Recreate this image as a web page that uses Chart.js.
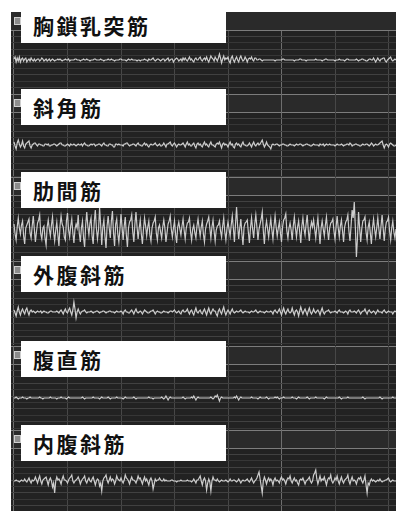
<!DOCTYPE html>
<html lang="ja">
<head>
<meta charset="utf-8">
<script src="https://cdn.jsdelivr.net/npm/chart.js@4.4.1/dist/chart.umd.min.js"></script>
<style>
html,body{margin:0;padding:0;background:#fff;width:396px;height:511px;overflow:hidden;}
#board{position:absolute;left:11px;top:12px;width:385px;height:499px;background:#222;}
.panel{position:absolute;left:11px;width:385px;height:84px;}
.panel canvas{display:block;}
.tag{position:absolute;left:21px;width:205px;height:36px;background:#fff;box-sizing:border-box;padding-left:12px;
  font:700 21px "Noto Sans CJK JP","Noto Sans CJK SC",sans-serif;letter-spacing:2.5px;line-height:36px;color:#111;white-space:nowrap;}
.btn{position:absolute;left:14px;width:5px;height:6px;background:#8c8c8c;border:1px solid #cfcfcf;}
</style>
</head>
<body>
<div id="board"></div>
<script>
// Muscle names, one per EMG channel (top to bottom)
const MUSCLES = ['胸鎖乳突筋', '斜角筋', '肋間筋', '外腹斜筋', '腹直筋', '内腹斜筋'];

// Sampling interval (s) and time gridlines (s)
const DT = 0.01;
const TIME_TICKS = [0, 0.5, 1, 1.5, 2, 2.5, 3, 3.5];
const MAJOR_TIME_TICKS = [0, 2.5];

// Raw EMG amplitude per channel (arbitrary units, 20 samples per row)
const SCM = [
  1, 3, -2, 2, -1, 3, -2, 1, 2, -1, 1, 2, -2, 0, 1, -1, 2, 0, -1, 1,
  -1, 0, 1, 1, -1, 0, 2, 1, -1, 0, 1, -1, 0, 1, -1, 0, 1, 0, -1, 0,
  0, 1, 0, 1, 0, -1, 0, 0, 1, 0, 0, 1, -1, 0, 0, 0, 0, 1, 1, 0,
  0, 0, -1, 0, 0, 1, 0, 0, 1, 0, 0, -1, 0, 0, 0, 1, 1, 0, 0, 0,
  0, 1, 0, 0, -1, 0, 0, 0, 1, 0, 0, 1, 0, 0, -1, 0, 0, 0, 0, 1,
  1, 0, 0, 0, 0, -1, 0, 1, 0, 0, 1, 0, 0, 0, 0, -1, 0, 0, -1, 0,
  0, 0, 1, 0, 0, -1, 1, 0, 0, 1, 2, 0, -1, 0, 1, 1, 0, -1, 0, 1,
  1, -1, 0, 1, 2, -1, 0, 1, 1, -2, 0, 1, 2, 1, -1, 0, 1, -1, 2, 0,
  2, 0, -1, 1, 3, 0, 1, -1, -2, 1, 2, 0, 0, 2, 3, 0, -1, 1, 2, 0,
  3, 0, -2, 1, 4, 2, 1, -1, 3, 1, -1, 2, 6, 2, -3, 1, 4, 0, 2, 1,
  3, -1, -3, 2, 4, 0, -2, 1, 3, 0, -2, 2, 4, 1, -1, 0, 3, 1, -2, 1,
  2, 1, 3, 0, -1, 2, 2, 0, 0, 1, 1, 0, -1, 0, 0, 0, 0, 0, 0, 0,
  0, 0, 0, 0, -1, 0, 0, 0, 0, 0, 0, 1, 1, 0, 0, 0, 0, 0, 0, 0,
  0, 0, -1, 0, 0, 0, 0, 1, 1, 0, 0, 0, 0, -1, 0, 0, 0, 0, 0, 0,
  0, 0, 1, 0, 0, 0, 0, 0, -1, 0, 0, 1, 1, 0, 0, 0, 0, 0, 0, 0,
  -1, 0, 0, 0, 1, 0, 0, 0, 0, -1, 0, 1, 1, 0, 0, 0, 0, 0, 0, 0,
  1, 0, -1, 0, 0, 1, 1, 0, 0, -1, -1, 0, 1, 1, 0, 0, 2, 0, -2, 0,
  2, 0, -1, 1, 1, 2, 2, -1, -2, 0, 1, 2, 3, 0, -1, 0, 1, 0
];
const SCALENE = [
  3, -1, -4, 2, 5, 1, -2, 0, 4, -1, -3, 1, 2, 3, 4, -1, -3, 0, 1, 2,
  2, 0, -1, 1, 1, 0, 0, -1, -1, 1, 1, 0, 1, -1, -1, 0, 0, 1, 1, 0,
  -1, 0, 1, 2, 2, 0, 0, -1, -1, 0, 1, 0, -1, 1, 0, 0, 1, 0, -1, 0,
  1, 0, 0, 1, -1, 1, 2, 0, 0, -1, -1, 0, 1, 0, 1, 1, -1, 0, 0, 1,
  1, 0, -1, 1, 2, 0, 0, -1, -1, 1, 1, 0, 0, -2, -2, 1, 1, 0, 1, 0,
  0, 0, -1, 1, 1, 2, 2, 0, -1, 0, 0, 1, 1, 0, -1, 1, 2, 0, 0, -1,
  -1, 1, 2, 0, 1, -1, -2, 0, 1, 0, 0, 1, 2, 0, -1, 0, 1, -1, -1, 0,
  2, 0, -2, 1, 1, 2, 3, 0, -1, 1, 2, 0, -2, 0, 1, 0, 0, 1, 2, 0,
  -2, 1, 3, 0, 1, -1, -1, 1, 2, -1, -3, 1, 2, 0, 1, -1, -2, 1, 3, 0,
  1, -1, -2, 1, 3, 0, 0, -1, -2, 1, 2, 1, 3, 0, -3, 1, 2, 0, 1, 0,
  -2, 1, 3, 0, 1, -2, -3, 1, 2, 0, 1, -1, -2, 1, 3, 0, 0, -1, -1, 0,
  2, 0, -2, 1, 3, 0, -1, 1, 2, 0, 1, 3, 5, 1, -2, 0, 3, 0, -1, -2,
  -4, 0, 1, 0, 0, 1, 1, 0, -1, 0, 0, 1, 1, 0, 0, -1, -1, 0, 1, 0,
  0, 0, -1, 0, 1, 0, 0, 1, 1, 0, -1, 0, 0, 1, 1, 0, 0, -1, -1, 0,
  1, 0, 0, 0, 0, -1, 1, 0, 0, 1, -1, 0, 1, 0, 0, 1, 0, 0, 0, 0,
  -1, 0, 1, 0, 0, 0, 1, 0, -1, 0, 0, 1, 1, 0, 2, 1, -1, 0, 0, 1,
  1, 0, 0, -1, -1, 0, 1, 0, 0, 1, 1, 0, -1, 0, 2, 1, -1, 0, 1, 0,
  0, 1, 2, 3, 4, 0, -3, 0, 1, 0, -2, 1, 2, 1, 0, -1, -1, 0
];
const INTERCOSTAL = [
  6, -4, -10, 3, 12, 2, -4, 5, 9, -6, -14, 2, 5, 8, 11, -3, -8, 4, 14, 1,
  -12, -2, 7, 10, 15, -4, -9, 2, 4, -8, -15, 3, 10, 1, -6, 5, 13, -2, -11, 0,
  8, -5, -16, 4, 14, 6, 3, -7, -10, 9, 17, 0, -7, 4, 11, -3, -13, 1, 6, 2,
  15, -3, -12, 2, 9, -8, -17, 5, 18, 4, -5, 7, 12, -6, -14, 8, 20, 2, -9, 0,
  22, 5, -15, 3, 10, -6, -18, 4, 14, 2, -8, 9, 19, -3, -16, 6, 11, -4, -12, 1,
  16, 3, -10, 4, 13, -5, -17, 2, 8, 10, 15, -2, -12, 6, 18, 3, -9, 2, 10, -4,
  -14, 1, 12, 4, -6, 3, 9, -5, -11, 2, 7, 9, 13, -3, -10, 2, 5, -2, -8, 3,
  10, 2, -12, -3, 6, 9, 14, 1, -7, 2, 9, -4, -13, 3, 8, 1, -5, 4, 11, 0,
  -9, 2, 7, 8, 12, -2, -10, 1, 5, -3, -8, 4, 11, 2, -6, 3, 9, -4, -12, 1,
  6, 9, 13, 2, -8, 3, 10, -1, -11, 0, 4, 5, 9, -1, -7, 4, 12, -2, -10, 1,
  8, 1, -6, 5, 14, 2, -12, 6, 23, 4, -9, 2, 11, -4, -15, 3, 7, 8, 10, -2,
  -13, 2, 12, 1, -8, 6, 15, 3, -10, 1, 6, 11, 18, -1, -14, 2, 9, 1, -7, 3,
  11, 0, -9, 4, 14, 3, -6, 2, 8, -3, -12, 3, 10, 12, 16, -1, -8, 2, 7, 0,
  -10, 4, 13, 2, -7, 3, 9, -2, -13, 4, 12, 1, -5, 6, 15, 0, -11, 2, 8, 3,
  10, 1, -8, 3, 12, -1, -14, 2, 9, 1, -6, 5, 13, 0, -10, 2, 7, 8, 11, -1,
  -9, 3, 14, 2, -7, 4, 10, -1, -12, 3, 8, 10, 15, -1, -11, 4, 20, 12, 28, 3,
  -27, -8, 18, 2, -12, 1, 9, 10, 13, -2, -10, 3, 8, -3, -14, 2, 11, 1, -7, 2,
  12, 1, -9, 4, 15, 2, -11, 1, 8, 9, 13, -1, -10, 2, 9, -2, -8, 1
];
const EXT_OBLIQUE = [
  2, -1, -4, 1, 5, 0, -3, 1, 3, 0, -2, 2, 4, 0, -3, 1, 2, 0, 1, 0,
  -1, 0, 1, 0, 0, 1, -1, 0, 1, 0, 0, -1, -1, 0, 1, 1, 0, 0, 0, 0,
  1, 0, -1, 1, 2, 0, -2, 1, 3, 0, -1, 2, 4, 0, -3, 2, 10, 3, -6, 0,
  3, 0, -2, 0, 1, 1, 2, 0, -1, 0, 0, 0, 1, 0, -1, 0, 0, 1, 1, 0,
  -1, 0, 0, 1, 1, 0, -1, 0, 0, 1, 1, 0, 0, 0, -1, 0, 1, 0, 0, 0,
  1, 0, -2, 1, 2, 0, 0, -1, -1, 1, 2, 0, -2, 1, 3, 0, -1, 0, 1, 0,
  -2, 0, 2, 1, 0, -1, -1, 0, 1, 1, 2, 0, -2, 0, 1, 0, 0, -1, -1, 0,
  1, 0, 0, 0, -1, 0, 1, 1, 0, 1, 2, 0, -1, 0, 1, -1, -2, 1, 2, 0,
  0, 1, 3, 0, -2, 1, 2, -1, -3, 1, 4, 0, -1, 1, 2, -1, -2, 1, 3, 0,
  -3, 1, 4, 0, -2, 1, 3, 1, 1, -2, -4, 1, 3, 0, -2, 2, 5, 0, -3, 0,
  2, 0, -2, 1, 3, 0, -1, 0, 1, 0, 0, 1, 2, 0, -1, 0, 1, 0, 0, 0,
  -1, 0, 1, 0, 0, 1, 2, 0, -1, 0, 1, 0, 0, 0, -1, 0, 1, 0, 0, 0,
  1, 0, -2, 1, 2, 0, -1, 1, 3, 0, -3, 1, 4, 0, -2, 1, 3, 0, -1, 0,
  4, 0, -3, 1, 2, 0, -4, 1, 5, 1, -2, 1, 3, 0, -3, 1, 4, 0, -2, 0,
  3, 0, -1, 1, 2, 0, -3, 1, 4, 0, -2, 0, 1, 1, 2, 0, -1, 0, 0, 0,
  1, 0, -1, 1, 2, 0, 0, 0, -1, 0, 1, 0, -2, 1, 2, 0, 0, 0, 1, 0,
  -1, 1, 2, 0, -2, 0, 1, 1, 3, 0, -2, 1, 2, 0, -1, 0, 1, 0, -2, 0,
  2, 0, 0, 0, -1, 1, 2, 0, -1, 0, 1, 0, 0, 0, -2, 0, 1, 0
];
const RECTUS = [
  0, 0, 1, 0, -1, 0, 0, 0, 1, 0, 0, 0, -1, 0, 0, 1, 0, 0, 0, 0,
  0, 0, 0, 0, 1, 0, 0, -1, 0, 0, 0, 0, 0, 0, 1, 0, 0, 0, 0, 0,
  -1, 0, 0, 0, 1, 0, 0, 0, 0, -1, 0, 1, 0, 0, 0, 0, 0, 0, 0, 0,
  0, 0, 0, 0, 1, 0, -1, 0, 0, 0, 0, 0, 0, 0, 1, 0, 0, 0, 0, 0,
  -1, 0, 1, 0, 0, 0, 0, 0, 1, 0, -1, 0, 0, 0, 0, 0, 1, 0, 0, 0,
  0, 0, -1, 0, 1, 0, 0, 0, 0, 0, 0, 0, 1, 0, -1, 0, 0, 0, 0, 0,
  0, 0, 0, 0, 0, 0, 1, 0, 0, 0, -1, 0, 0, 0, 0, 0, 0, 0, 1, 0,
  -1, 0, 2, 0, -2, 0, 1, 0, 0, 0, 0, 0, 0, 0, 0, 0, 0, 0, 1, 0,
  -1, 0, 0, 0, 0, 0, 1, 0, 2, 0, -2, 0, 1, 0, 0, 0, 0, 0, 0, 0,
  0, 0, 0, 0, 1, 0, -1, 0, 2, 1, 3, 0, -3, 0, 1, 0, 0, 0, 0, 0,
  0, 0, 0, 0, 0, 0, 1, 0, 2, 0, -2, 0, 1, 0, 0, 0, 0, 0, 0, 0,
  0, 0, 1, 0, 0, 0, 0, 0, -1, 0, 1, 0, 0, 0, 0, 0, 1, 0, -1, 0,
  0, 0, 0, 0, 1, 0, 1, 0, -1, 0, 0, 0, 1, 0, 0, 0, 0, 0, 0, 0,
  1, 0, 0, 0, -1, 0, 1, 0, 0, 0, 0, 0, 0, 0, 1, 0, -1, 0, 0, 0,
  0, 0, 1, 0, 0, 0, 0, 0, 0, 0, -1, 0, 1, 0, 0, 0, 0, 0, 0, 0,
  0, 0, 0, 0, 1, 0, -1, 0, 0, 0, 0, 0, 1, 0, 0, 0, 0, 0, 0, 0,
  0, 0, 0, 0, 0, 0, 1, 0, -1, 0, 0, 0, 0, 0, 0, 0, 0, 0, 0, 0,
  0, 0, 1, 0, -1, 0, 0, 0, 0, 0, 0, 0, 0, 0, 1, 0, 0, 0
];
const INT_OBLIQUE = [
  0, 0, 1, 0, 0, -1, 0, 1, 0, 0, 2, 0, -1, 1, 3, 0, -2, 1, 0, 1,
  4, 1, -2, 2, 5, 0, -3, 1, 2, 3, 4, 0, -4, 1, 3, 0, -6, -2, -12, 0,
  4, 1, 2, 0, -3, 2, 5, 1, 1, 0, -2, 1, 3, 4, 6, 0, -2, 0, 1, 2,
  4, 1, -3, 0, 2, 3, 5, 0, -2, 1, 3, 0, -1, 2, 4, 0, -4, 0, 2, 1,
  -5, -2, -10, 0, 3, 4, 6, 1, -2, 1, 4, 0, 2, 1, -3, 0, 5, 2, 1, 0,
  3, 0, -2, 1, 6, 3, 2, 0, -3, 1, 4, 1, 1, 0, -2, 1, 5, 2, 3, 0,
  -3, 1, 4, 0, 2, -1, -4, 1, 3, 0, -8, -3, 2, 0, 1, 1, 3, 1, 0, 0,
  2, 0, 1, 0, 0, 0, 0, 1, 1, 0, 0, 0, -1, 0, 0, 0, 1, 0, 0, 0,
  0, 0, 1, 0, 0, 0, -1, 0, 2, 0, -2, 1, 1, 3, 5, 0, -4, 1, 3, 0,
  -9, -2, 2, -1, -10, 0, 4, 1, 1, 0, 2, 0, -1, 0, 1, 0, 0, 0, 1, 0,
  -1, 0, 2, 0, 0, 1, 1, 0, -1, 0, 2, 0, -2, 0, 1, 0, 0, 1, 2, 0,
  -1, 1, 3, 0, -2, 0, 1, 3, 6, 9, 2, -5, -12, 0, 4, 1, -3, 1, 3, 0,
  2, 0, -4, 1, 3, 0, 1, 0, -2, 2, 4, 1, 2, 0, -3, 1, 3, 2, 5, 0,
  -2, 1, 3, 0, 1, -2, -4, 1, 2, 1, 3, 0, -3, 0, 1, 2, 4, 0, -2, 0,
  6, 8, 11, 2, -3, 1, 5, 0, 2, 1, 4, 0, -4, 1, 3, 2, 6, 0, -2, 0,
  3, 1, 5, 0, -3, 1, 4, 0, -2, 1, 2, 3, 6, 0, -3, 1, 4, 0, 1, 0,
  -3, 1, 3, 2, 4, 0, -2, 1, 5, -4, -12, -2, -4, 0, 2, 0, 1, 0, -1, 0,
  1, 0, 2, 0, -1, 0, 0, 1, 1, 2, 3, 0, -1, 0, 1, 0, 0, 0
];
const CHANNELS = [SCM, SCALENE, INTERCOSTAL, EXT_OBLIQUE, RECTUS, INT_OBLIQUE];

// Layout of the stacked channel strips
const PANEL_TOP = [12, 94, 177, 261, 346, 430];
const PANEL_H = 84;
const BASE_OFFSET = [48, 51, 53, 51, 52, 51]; // amplitude at strip top, relative to baseline
const BAND_H = 18;
const GRID_STEP = 6.4;

// Draws the dark title band at the top of each strip
const headerBand = {
  id: 'headerBand',
  draw(chart, opts) {
    const { ctx, chartArea } = chart;
    const y = chart.scales.y;
    const top = Math.round(y.getPixelForValue(opts.top));
    const bot = Math.round(y.getPixelForValue(opts.top - BAND_H));
    ctx.save();
    ctx.fillStyle = '#2a2a2a';
    ctx.fillRect(chartArea.left, top, chartArea.right - chartArea.left, bot - top);
    ctx.strokeStyle = '#7c7c7c';
    ctx.lineWidth = 1;
    ctx.beginPath();
    if (opts.topLine) { ctx.moveTo(chartArea.left, top + 0.5); ctx.lineTo(chartArea.right, top + 0.5); }
    ctx.moveTo(chartArea.left, bot + 0.5); ctx.lineTo(chartArea.right, bot + 0.5);
    ctx.stroke();
    ctx.restore();
  },
  beforeDraw(chart, args, opts) { if (!opts.over) this.draw(chart, opts); },
  beforeDatasetsDraw(chart, args, opts) { if (opts.over) this.draw(chart, opts); }
};

CHANNELS.forEach((series, i) => {
  const yTop = BASE_OFFSET[i];
  const wrap = document.createElement('div');
  wrap.className = 'panel';
  wrap.style.top = PANEL_TOP[i] + 'px';
  const canvas = document.createElement('canvas');
  canvas.width = 385; canvas.height = PANEL_H;
  wrap.appendChild(canvas);
  document.body.appendChild(wrap);

  new Chart(canvas, {
    type: 'line',
    data: {
      datasets: [{
        label: MUSCLES[i],
        data: series.map((v, k) => ({ x: k * DT, y: v })),
        borderColor: '#cdcdcd',
        borderWidth: 1.2,
        pointRadius: 0,
        tension: 0,
        fill: false
      }]
    },
    options: {
      responsive: false,
      animation: false,
      events: [],
      layout: { padding: 0 },
      plugins: {
        legend: { display: false },
        tooltip: { enabled: false },
        headerBand: { top: yTop, over: i === 0, topLine: i !== 0 }
      },
      scales: {
        x: {
          type: 'linear', min: -0.028, max: 3.57,
          border: { display: false },
          ticks: { display: false },
          grid: {
            drawTicks: false, lineWidth: 1,
            color: c => MAJOR_TIME_TICKS.includes(c.tick.value) ? '#6e6e6e' : '#474747'
          },
          afterBuildTicks: s => { s.ticks = TIME_TICKS.map(v => ({ value: v })); }
        },
        y: {
          type: 'linear', min: yTop - PANEL_H, max: yTop,
          border: { display: false },
          ticks: { display: false },
          grid: {
            drawTicks: false, lineWidth: 1,
            color: c => (c.index % 2 ? '#363636' : '#414141')
          },
          afterBuildTicks: s => {
            const t = [];
            for (let v = yTop - BAND_H - GRID_STEP; v > yTop - PANEL_H; v -= GRID_STEP) t.push({ value: v });
            s.ticks = t;
          }
        }
      }
    },
    plugins: [headerBand]
  });
});

// Channel title boxes and their small toggle squares
MUSCLES.forEach((name, i) => {
  const btn = document.createElement('div');
  btn.className = 'btn';
  btn.style.top = (PANEL_TOP[i] + 5) + 'px';
  document.body.appendChild(btn);
  const tag = document.createElement('div');
  tag.className = 'tag';
  tag.style.top = (PANEL_TOP[i] - 5) + 'px';
  tag.textContent = name;
  document.body.appendChild(tag);
});
</script>
</body>
</html>
